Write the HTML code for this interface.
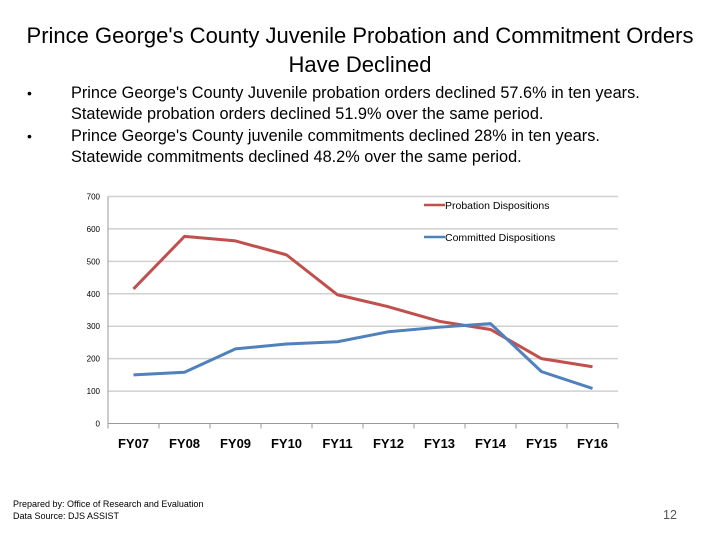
<!DOCTYPE html>
<html><head><meta charset="utf-8"><style>
body{margin:0;width:720px;height:540px;background:#fff;font-family:"Liberation Sans",sans-serif;overflow:hidden;position:relative}
.t{position:absolute;left:0;width:720px;text-align:center;font-size:22px;color:#000}
.b{position:absolute;left:71px;font-size:16.3px;color:#000;white-space:nowrap}
.d{position:absolute;left:27px;font-size:14px}
</style></head><body>
<div class="t" style="top:23px">Prince George's County Juvenile Probation and Commitment Orders</div>
<div class="t" style="top:52px">Have Declined</div>
<div class="d" style="top:85px">•</div>
<div class="d" style="top:128px">•</div>
<div class="b" style="top:84px">Prince George's County Juvenile probation orders declined 57.6% in ten years.</div>
<div class="b" style="top:105px">Statewide probation orders declined 51.9% over the same period.</div>
<div class="b" style="top:127px">Prince George's County juvenile commitments declined 28% in ten years.</div>
<div class="b" style="top:148px">Statewide commitments declined 48.2% over the same period.</div>
<svg id="c" width="720" height="540" style="position:absolute;left:0;top:0"></svg>
<div style="position:absolute;left:13px;top:499px;font-size:9px">Prepared by: Office of Research and Evaluation</div>
<div style="position:absolute;left:13px;top:511px;font-size:9px">Data Source: DJS ASSIST</div>
<div style="position:absolute;left:663px;top:508px;font-size:12.5px;color:#555">12</div>
<script>
const categories=["FY07","FY08","FY09","FY10","FY11","FY12","FY13","FY14","FY15","FY16"];
const probation=[415,577,563,520,397,360,315,290,200,175];
const committed=[150,158,230,245,252,283,297,308,160,108];
const yTicks=[0,100,200,300,400,500,600,700];
const NS="http://www.w3.org/2000/svg";
const svg=document.getElementById('c');
const L=108,R=618,Y0=423.5,Y1=196.5,yMax=700;
const xS=i=>L+(R-L)/categories.length*(i+0.5);
const yS=v=>Y0-(Y0-Y1)*v/yMax;
function mk(t,a){const e=document.createElementNS(NS,t);for(const k in a)e.setAttribute(k,a[k]);svg.appendChild(e);return e;}
yTicks.forEach(v=>{
 if(v>0){const g=mk('line',{x1:L,x2:R,y1:yS(v),y2:yS(v),stroke:'#d0d0d0','stroke-width':1.5});
 
 }
 const t=mk('text',{x:L-8,y:yS(v)+3,'text-anchor':'end','font-size':8,fill:'#000'});t.textContent=v;
 
 
});
const ax=mk('line',{x1:L,x2:L,y1:Y1,y2:Y0,stroke:'#999','stroke-width':1});


const xa=mk('line',{x1:L,x2:R,y1:Y0,y2:Y0,stroke:'#999','stroke-width':1});


for(let i=0;i<=categories.length;i++){const x=L+(R-L)/categories.length*i;mk('line',{x1:x,x2:x,y1:Y0,y2:Y0+5,stroke:'#999'});}
categories.forEach((c,i)=>{const t=mk('text',{x:xS(i),y:448,'text-anchor':'middle','font-size':13,'font-weight':'bold',fill:'#000'});t.textContent=c;
 
 });
function series(d,col,name){const p=mk('polyline',{points:d.map((v,i)=>xS(i)+','+yS(v)).join(' '),fill:'none',stroke:col,'stroke-width':3,'stroke-linejoin':'round'});
 
 }
series(probation,'#c0504d','probation-line');
series(committed,'#4f81bd','committed-line');
[['Probation Dispositions','#c0504d',205],['Committed Dispositions','#4f81bd',237]].forEach(([n,c,y])=>{
 const l=mk('line',{x1:424,x2:445,y1:y,y2:y,stroke:c,'stroke-width':2.5});
 
 
 const t=mk('text',{x:445,y:y+4,'font-size':10.5,fill:'#000'});t.textContent=n;
 
 
});
</script>
</body></html>
